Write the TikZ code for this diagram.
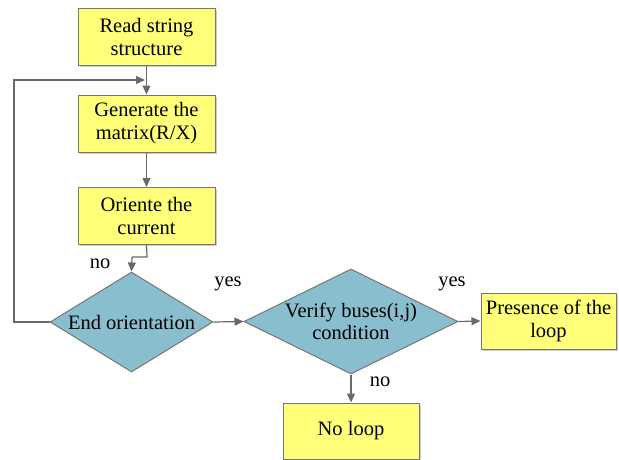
\documentclass[tikz,border=0pt]{standalone}
\usepackage{fontspec}
\newfontfamily\chartfont{Liberation Serif}
\usetikzlibrary{arrows.meta,shapes.geometric,shadows}
\definecolor{boxfill}{RGB}{255,255,122}
\definecolor{diafill}{RGB}{137,190,207}
\definecolor{edge}{RGB}{118,118,118}
\definecolor{linec}{RGB}{105,105,105}
\tikzset{
  stepbox/.style={draw=edge, line width=1pt, fill=boxfill, rectangle,
    minimum width=137pt, minimum height=57pt, inner sep=0pt, align=center,
    font=\chartfont\fontsize{20.5}{23}\selectfont,
    drop shadow={shadow xshift=1.5pt, shadow yshift=-1.5pt, opacity=0.2, fill=black}},
  decision/.style={draw=edge, line width=1pt, fill=diafill, diamond, aspect=1,
    inner sep=0pt},
  dtext/.style={align=center, font=\chartfont\fontsize{20.5}{22}\selectfont},
  link/.style={draw=linec, line width=1.2pt, -{Triangle[length=9pt,width=8pt]}},
  plain/.style={draw=linec, line width=1.2pt},
  tag/.style={font=\chartfont\fontsize{20.5}{20}\selectfont}
}
\begin{document}
\begin{tikzpicture}[x=1pt,y=-1pt]
\useasboundingbox (0,0) rectangle (619,459);

% process boxes
\node[stepbox] (read) at (146.5,36.5) {Read string\\structure};
\node[stepbox] (gen)  at (146.5,123.5) {Generate the\\matrix(R/X)};
\node[stepbox] (ori)  at (146.5,216) {Oriente the\\current};
\node[stepbox, minimum width=135pt, minimum height=56pt] (pres) at (548.5,321) {Presence of the\\loop};
\node[stepbox, minimum width=136pt, minimum height=56pt] (none) at (351,431) {No loop};

% decisions
\node[decision, minimum width=163pt, minimum height=100pt,
      label={[dtext]center:End orientation}] (endo) at (131.5,322) {};
\node[decision, minimum width=214pt, minimum height=105pt,
      label={[dtext]center:Verify buses(i,j)\\condition}] (ver) at (351,321.5) {};

% joints of the elbow connectors
\coordinate (loopL) at (14,322);
\coordinate (loopT) at (14,80);
\coordinate (loopE) at (145,80);
\coordinate (bend) at (147,257);
\coordinate (bend2) at (132,257);

% connectors
\draw[link] (read.south) -- (gen.north);
\draw[link] (gen.south) -- (ori.north);
\draw[plain] (ori.south) -- (bend) -- (bend2);
\draw[link] (bend2) -- (endo.north);
\draw[link] (endo.west) -- (loopL) -- (loopT) -- (loopE);
\draw[link] (endo.east) -- (ver.west);
\draw[link] (ver.east) -- (pres.west);
\draw[link] (ver.south) -- (none.north);

% branch labels
\node[tag] (no1)  at (100,264) {no};
\node[tag] (yes1) at (228,284) {yes};
\node[tag] (yes2) at (452,284) {yes};
\node[tag] (no2)  at (380,382) {no};
\end{tikzpicture}
\end{document}
